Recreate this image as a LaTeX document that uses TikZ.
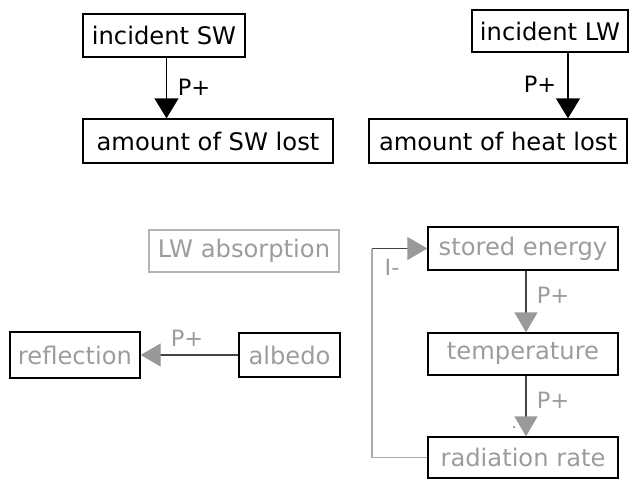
\documentclass[tikz,border=0pt]{standalone}
\usepackage{fontspec}
\setmainfont{DejaVu Sans}
\usetikzlibrary{arrows.meta,calc}
\definecolor{txtgray}{HTML}{9C9C9C}
\definecolor{linegray}{HTML}{444444}
\definecolor{tipgray}{HTML}{999999}
\definecolor{boxgray}{HTML}{B4B4B4}
\definecolor{loopgray}{HTML}{AAAAAA}
\begin{document}
\begin{tikzpicture}[x=1pt,y=-1pt,
  box/.style={draw=black,line width=1.3pt,inner sep=0pt,
    font=\fontsize{24.2}{28}\selectfont,text=black},
  dimbox/.style={box,text=txtgray},
  faintbox/.style={box,draw=boxgray,text=txtgray},
  lbl/.style={inner sep=0pt,font=\fontsize{22.5}{26}\selectfont},
  darkarrow/.style={line width=1.3pt,draw=black,
    -{Triangle[width=24pt,length=20pt,color=black]}},
  grayarrow/.style={line width=1.3pt,draw=linegray,
    -{Triangle[width=23pt,length=20pt,color=tipgray]}}]
\useasboundingbox (0,0) rectangle (629,479);

% shortwave and longwave inputs
\node[box,minimum width=162pt,minimum height=43pt] (isw) at (164,35.5) {incident SW};
\node[box,minimum width=250pt,minimum height=44pt] (swl) at (208,141) {amount of SW lost};
\node[box,minimum width=156pt,minimum height=42pt] (ilw) at (550,31) {incident LW};
\node[box,minimum width=258pt,minimum height=44pt] (hl) at (498,141) {amount of heat lost};

\coordinate (s1) at ($(isw.south)+(2.5,0)$);
\draw[darkarrow] (s1) -- (s1 |- swl.north);
\node[lbl] (p1) at (194,87.5) {P+};
\coordinate (s2) at ($(ilw.south)+(18,0)$);
\draw[darkarrow] (s2) -- (s2 |- hl.north);
\node[lbl] (p2) at (540,84) {P+};

% surface properties
\node[faintbox,minimum width=190pt,minimum height=42pt] (lwa) at (244,251) {LW absorption};
\node[dimbox,minimum width=130pt,minimum height=46pt] (refl) at (75,355) {reflection};
\node[dimbox,minimum width=101pt,minimum height=44pt] (alb) at (289.5,355) {albedo};
\draw[grayarrow] (alb.west) -- (refl.east);
\node[lbl,text=txtgray] (p3) at (187,338.5) {P+};

% energy balance loop
\node[dimbox,minimum width=190pt,minimum height=43pt] (se) at (523,248.5) {stored energy};
\node[dimbox,minimum width=190pt,minimum height=42pt] (temp) at (523,354) {temperature};
\node[dimbox,minimum width=190pt,minimum height=41pt] (rr) at (523,457.5) {radiation rate};

\coordinate (s3) at ($(se.south)+(3,0)$);
\draw[grayarrow] (s3) -- (s3 |- temp.north);
\node[lbl,text=txtgray] (p4) at (553,295) {P+};
\coordinate (s4) at ($(temp.south)+(3,0)$);
\draw[grayarrow] (s4) -- (s4 |- rr.north);
\node[lbl,text=txtgray] (p5) at (553,400) {P+};
\fill[linegray] (514,427) circle (0.9pt);

\coordinate (corner) at (372,248.5);
\draw[line width=1.3pt,draw=loopgray] (rr.west) -| (corner);
\draw[grayarrow] (corner) -- (se.west);
\node[lbl,text=txtgray] (im) at (392,267) {I-};
\end{tikzpicture}
\end{document}
